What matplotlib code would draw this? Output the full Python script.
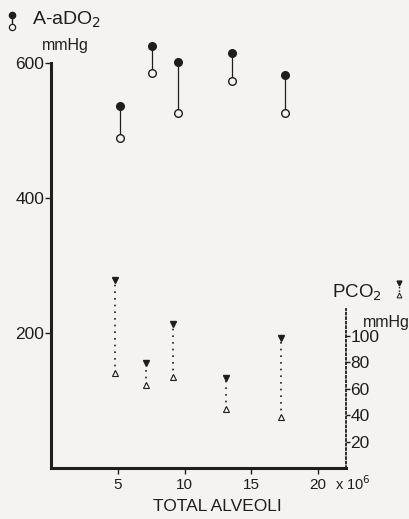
import numpy as np
import matplotlib.pyplot as plt

plt.rcParams['font.family'] = ['Liberation Sans', 'DejaVu Sans']

# A-aDO2 (mmHg): filled = top value, open = bottom value
alv_x = [5.15, 7.55, 9.5, 13.55, 17.5]
aado2_high = [536, 625, 601, 615, 582]
aado2_low = [489, 585, 526, 573, 526]

# PCO2 (mmHg): filled triangle = top, open triangle = bottom
pco2_x = [4.8, 7.1, 9.1, 13.1, 17.2]
pco2_high = [142, 79, 109, 68, 98]
pco2_low = [72, 63, 69, 44.5, 38.5]

left_ticks = [200, 400, 600]
right_ticks = [20, 40, 60, 80, 100]
x_ticks = [5, 10, 15, 20]

ink = '#1e1e1e'
bg = '#f5f3f2'

fig = plt.figure(figsize=(4.10, 5.19), dpi=100, facecolor=bg)
ax = fig.add_axes([0.125, 0.098, 0.719, 0.846])
ax.set_facecolor('none')
ax.set_xlim(0, 22.1)
ax.set_ylim(0, 650)

for x, hi, lo in zip(alv_x, aado2_high, aado2_low):
    ax.plot([x, x], [lo, hi], color=ink, lw=0.9, zorder=2)
ax.plot(alv_x, aado2_high, 'o', color=ink, ms=5.5, zorder=3)
ax.plot(alv_x, aado2_low, 'o', mfc=bg, mec=ink, mew=1.0, ms=5.5, zorder=3)

ax.spines['top'].set_visible(False)
ax.spines['right'].set_visible(False)
ax.spines['left'].set_linewidth(2.2)
ax.spines['bottom'].set_linewidth(2.2)
ax.spines['left'].set_bounds(0, 600)
ax.spines['left'].set_color(ink)
ax.spines['bottom'].set_color(ink)
ax.set_yticks(left_ticks)
ax.set_xticks(x_ticks)
ax.tick_params(axis='y', length=4, width=1, colors=ink, labelsize=12.5, pad=1)
ax.tick_params(axis='x', length=4, width=1, colors=ink, labelsize=11, pad=3)

ax2 = ax.twinx()
ax2.set_ylim(0, 650 * 0.675 / 1.325)
for x, hi, lo in zip(pco2_x, pco2_high, pco2_low):
    ax2.plot([x, x], [lo, hi], color=ink, lw=1.2, ls=(0, (1, 3)), zorder=2)
ax2.plot(pco2_x, pco2_high, 'v', color=ink, ms=4, zorder=3)
ax2.plot(pco2_x, pco2_low, '^', mfc=bg, mec=ink, mew=0.8, ms=4, zorder=3)
for s in ['top', 'left', 'bottom']:
    ax2.spines[s].set_visible(False)
ax2.spines['right'].set_bounds(0, 120)
ax2.spines['right'].set_linestyle((0, (1, 1.5)))
ax2.spines['right'].set_linewidth(1.3)
ax2.spines['right'].set_color(ink)
ax2.set_yticks(right_ticks)
ax2.tick_params(axis='y', length=3, width=1, colors=ink, labelsize=12.5, pad=0)

# labels
fig.text(0.078, 0.962, 'A-aDO$_2$', fontsize=14, color=ink, va='center')
fig.text(0.102, 0.912, 'mmHg', fontsize=11.5, color=ink, va='center')
fig.text(0.81, 0.435, 'PCO$_2$', fontsize=13.5, color=ink, va='center')
fig.text(0.885, 0.378, 'mmHg', fontsize=11.5, color=ink, va='center')
fig.text(0.531, 0.025, 'TOTAL ALVEOLI', fontsize=12.5, color=ink, ha='center', va='center')
fig.text(0.818, 0.069, 'x 10$^6$', fontsize=10.5, color=ink, va='center')

# legend glyphs
lax = fig.add_axes([0, 0, 1, 1], facecolor='none')
lax.set_xlim(0, 410)
lax.set_ylim(519, 0)
lax.axis('off')
lax.plot([12, 12], [15, 27], color=ink, lw=1)
lax.plot([12], [15], 'o', color=ink, ms=4.5)
lax.plot([12], [27], 'o', mfc=bg, mec=ink, mew=0.9, ms=4.5)
lax.plot([399, 399], [283, 295], color=ink, lw=1, ls=(0, (1, 1.5)))
lax.plot([399], [283], 'v', color=ink, ms=3.5)
lax.plot([399], [295], '^', mfc=bg, mec=ink, mew=0.7, ms=3.5)

fig.savefig('out.png', dpi=100, facecolor=bg)
